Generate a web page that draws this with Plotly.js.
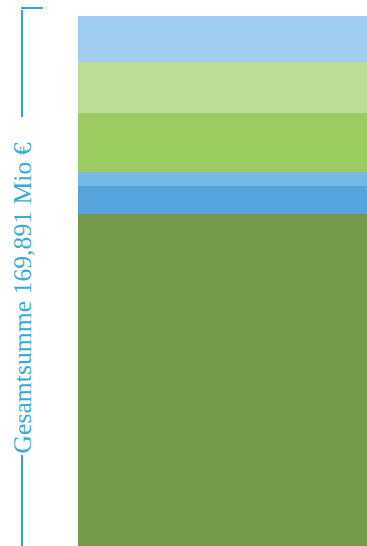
<!DOCTYPE html>
<html>
<head>
<meta charset="utf-8">
<script src="https://cdn.plot.ly/plotly-3.0.1.min.js"></script>
<style>html,body{margin:0;padding:0;background:#fff;}#chart{width:367px;height:546px;}</style>
</head>
<body>
<div id="chart"></div>
<script>
const category = ["Gesamt"];
const segmentNames = ["Segment 1", "Segment 2", "Segment 3", "Segment 4", "Segment 5", "Segment 6"];
const segmentValues = [106.4, 8.98, 4.49, 18.9, 16.35, 14.77];
const segmentColors = ["#76994B", "#56A2DB", "#76B8E6", "#9BCB61", "#BEDC98", "#A0CDEF"];
const totalLabel = "Gesamtsumme 169,891 Mio €";

const W = 367, H = 546, L = 78, T = 16;
const pw = W - L, ph = H - T;
const px = x => (x - L) / pw;
const py = y => (H - y) / ph;
const total = segmentValues.reduce((a, b) => a + b, 0);

const traces = segmentNames.map((n, i) => ({
  type: "bar", name: n, x: category, y: [segmentValues[i]],
  marker: {color: segmentColors[i], line: {width: 0}},
  hoverinfo: "none"
}));

const lineCol = "#2EA8CF";
const layout = {
  width: W, height: H,
  margin: {l: L, r: 0, t: T, b: 0, pad: 0},
  barmode: "stack", bargap: 0,
  showlegend: false,
  paper_bgcolor: "#fff", plot_bgcolor: "#fff",
  xaxis: {visible: false, range: [-0.5, 0.5], fixedrange: true},
  yaxis: {visible: false, range: [0, total], fixedrange: true},
  shapes: [
    {type: "line", xref: "paper", yref: "paper", x0: px(21), x1: px(43), y0: py(8), y1: py(8), line: {color: lineCol, width: 2}},
    {type: "line", xref: "paper", yref: "paper", x0: px(22), x1: px(22), y0: py(10), y1: py(117), line: {color: lineCol, width: 2}},
    {type: "line", xref: "paper", yref: "paper", x0: px(22), x1: px(22), y0: py(455), y1: py(546), line: {color: lineCol, width: 2}}
  ],
  annotations: [{
    text: totalLabel, xref: "paper", yref: "paper", x: px(21.5), y: py(298),
    xanchor: "center", yanchor: "middle", textangle: -90, showarrow: false,
    font: {family: "Liberation Serif, serif", size: 25.7, color: "#3AACD2"}
  }]
};
Plotly.newPlot("chart", traces, layout, {staticPlot: true, displayModeBar: false});
</script>
</body>
</html>
